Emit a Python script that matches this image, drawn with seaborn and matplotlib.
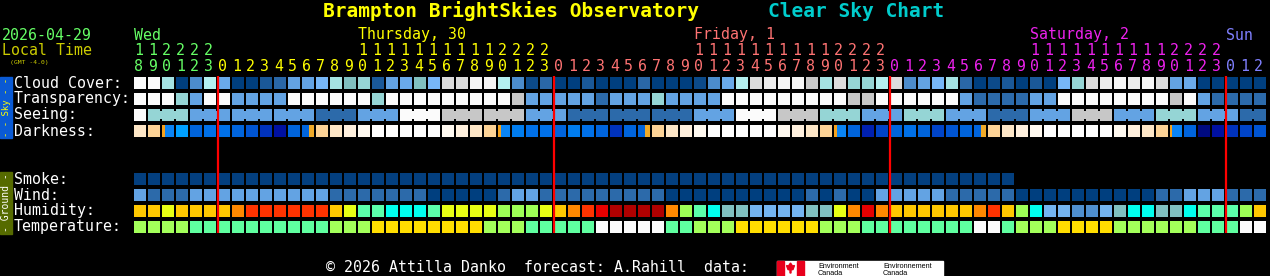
import matplotlib
matplotlib.use("Agg")
import matplotlib.pyplot as plt
from matplotlib.patches import Rectangle, Polygon
import pandas as pd
import seaborn as sns

W, H = 1270, 276

# ---------------- data ----------------
title_left = "Brampton BrightSkies Observatory"
title_right = "Clear Sky Chart"
date_text = "2026-04-29"
tz_text = "(GMT -4.0)"
hours = [18, 19, 20, 21, 22, 23] + list(range(24)) * 3 + [0, 1, 2]
day_names = ["Wed", "Thursday, 30", "Friday, 1", "Saturday, 2", "Sun"]
day_label_cols = [0, 16, 40, 64, 78]
day_start_cols = [0, 6, 30, 54, 78]
day_colors = ["#66ff66", "#ffff00", "#ff7373", "#ee22ee", "#8080ff"]

sky_labels = ["Cloud Cover:", "Transparency:", "Seeing:", "Darkness:"]
ground_labels = ["Smoke:", "Wind:", "Humidity:", "Temperature:"]

# cloud cover, percent
cloud_cover = [100, 100, 70, 0, 40, 75, 50, 0, 0, 20,
               30, 45, 45, 55, 70, 60, 65, 20, 45, 50,
               60, 55, 85, 85, 95, 95, 75, 40, 10, 30,
               0, 0, 20, 0, 0, 0, 30, 0, 0, 0,
               10, 40, 50, 75, 85, 90, 95, 95, 80, 70,
               85, 65, 65, 75, 85, 40, 45, 55, 70, 30,
               0, 10, 20, 0, 20, 0, 55, 65, 85, 90,
               95, 90, 95, 85, 45, 50, 0, 0, 0, 0,
               0]
# transparency level 0 (too cloudy) .. 5 (transparent)
transparency = [0, 0, 0, 2, 3, 0, 0, 3, 3, 3,
                3, 0, 0, 0, 0, 0, 0, 2, 0, 0,
                0, 0, 0, 0, 0, 0, 0, 1, 3, 3,
                3, 3, 3, 4, 3, 3, 3, 2, 3, 3,
                3, 3, 0, 0, 0, 0, 0, 0, 0, 0,
                0, 1, 1, 0, 0, 0, 0, 0, 0, 3,
                4, 4, 4, 4, 3, 3, 0, 0, 0, 0,
                0, 0, 0, 0, 1, 0, 3, 4, 4, 4,
                4]
# seeing level 0 (too cloudy) .. 5 (excellent)
seeing = [0, 2, 2, 2, 3, 3, 3, 3, 3, 3,
          3, 3, 3, 4, 4, 4, 3, 3, 3, 0,
          0, 0, 1, 1, 1, 1, 1, 1, 3, 3,
          3, 4, 4, 4, 4, 4, 4, 4, 4, 4,
          3, 3, 3, 0, 0, 0, 1, 1, 1, 2,
          2, 2, 3, 3, 3, 2, 2, 2, 3, 3,
          3, 4, 4, 4, 3, 3, 3, 1, 1, 1,
          3, 3, 3, 2, 2, 2, 3, 3, 3, 4,
          4]
# darkness: negative = sun up / twilight, positive = limiting magnitude
darkness = [-1, 0, 3.5, 3.0, 4.6, 4.3, 4.3, 4.6, 5.0, 5.6,
            6.3, 4.6, 4.6, 0, -1, -2, -3, -4, -4, -4,
            -4, -4, -3, -2, -1, 0, 3.5, 4.0, 4.3, 4.3,
            4.6, 4.0, 4.3, 4.6, 5.6, 4.6, 4.6, 0, -1, -2,
            -3, -4, -4, -4, -4, -4, -3, -2, -1, 0,
            3.5, 4.6, 6.0, 5.3, 4.6, 4.3, 4.6, 5.3, 5.0, 4.6,
            4.6, 0, -1, -2, -3, -4, -4, -4, -4, -4,
            -3, -2, -1, 0, 3.5, 4.6, 6.6, 6.3, 5.6, 5.3,
            5.0]
sunset_cols = [2, 26, 50, 74]
sunrise_cols = [12, 36, 60]
# smoke (ug/m3), forecast available for 63 hours
smoke = [0, 0, 0, 0, 0, 0, 0, 0, 0, 0,
         0, 0, 0, 0, 0, 0, 0, 0, 0, 0,
         0, 0, 0, 0, 0, 0, 0, 0, 0, 0,
         0, 0, 0, 0, 0, 0, 0, 0, 0, 0,
         0, 0, 0, 0, 0, 0, 0, 0, 0, 0,
         0, 0, 0, 0, 0, 0, 0, 0, 0, 0,
         0, 0, 0]
# wind, km/h
wind = [14, 8, 8, 8, 14, 14, 14, 14, 14, 14,
        14, 14, 14, 14, 8, 8, 8, 8, 8, 8,
        8, 3, 3, 3, 3, 3, 8, 14, 14, 8,
        8, 8, 8, 8, 8, 8, 8, 8, 3, 3,
        3, 3, 3, 3, 3, 3, 3, 3, 8, 3,
        8, 3, 3, 14, 14, 14, 14, 14, 8, 8,
        8, 8, 8, 3, 3, 3, 3, 3, 3, 3,
        3, 3, 3, 8, 8, 14, 14, 14, 8, 8,
        8]
# relative humidity, percent
humidity = [70, 70, 65, 70, 70, 70, 70, 75, 80, 80,
            80, 80, 80, 80, 70, 65, 55, 55, 50, 50,
            50, 55, 65, 65, 65, 65, 60, 60, 60, 65,
            70, 75, 80, 85, 95, 95, 95, 95, 75, 60,
            55, 50, 45, 45, 40, 40, 40, 40, 45, 45,
            65, 75, 85, 75, 70, 70, 70, 70, 70, 70,
            75, 80, 70, 60, 50, 40, 40, 35, 35, 40,
            45, 50, 50, 45, 45, 50, 55, 55, 55, 60,
            70]
# temperature, deg C
temperature = [10, 10, 10, 10, 7, 7, 7, 7, 7, 7,
               7, 7, 7, 7, 10, 10, 10, 15, 15, 15,
               15, 15, 15, 15, 15, 10, 10, 10, 7, 7,
               7, 7, 7, 2, 2, 2, 2, 2, 7, 7,
               10, 10, 10, 15, 15, 15, 15, 15, 15, 10,
               10, 10, 7, 7, 7, 7, 7, 7, 7, 7,
               2, 2, 7, 10, 10, 10, 15, 15, 15, 15,
               10, 10, 10, 10, 10, 10, 7, 7, 7, 2,
               2]

# ---------------- colour scales ----------------
cloud_pal = {100: "#fbfbfb", 95: "#f5f5f5", 90: "#ececec", 85: "#dcdcdc",
             80: "#c8c8c8", 75: "#b4f0f0", 70: "#a5e3e3", 65: "#96d6d6",
             60: "#80c0c0", 55: "#77b7f7", 50: "#6aaaea", 45: "#63a3e3",
             40: "#4c8ccc", 30: "#2a67a7", 20: "#1a5898", 10: "#0c4a8a",
             0: "#003f7f"}
level_pal = {0: "#fbfbfb", 1: "#c7c7c7", 2: "#95d5d5", 3: "#63a3e3",
             4: "#2c6aaa", 5: "#003f7f"}
dark_pal = {-4: "#fefefe", -3: "#fff9f0", -2: "#fff0dd", -1: "#fde6c6",
            0: "#fdd396", 3.0: "#00a0ff", 3.5: "#0a84f4", 4.0: "#007cee",
            4.3: "#0070e8", 4.6: "#0064dc", 5.0: "#0054d2", 5.3: "#0044c8",
            5.6: "#0032bc", 6.0: "#0020b0", 6.3: "#0010a0", 6.6: "#000a80"}
smoke_pal = {0: "#033f7f"}
wind_pal = {14: "#63a3e3", 8: "#2c6aaa", 3: "#003f7f"}
hum_pal = {35: "#4f8fcf", 40: "#73b4f0", 45: "#80c0c0", 50: "#00ffee",
           55: "#5bffaa", 60: "#9dff55", 65: "#e8ff14", 70: "#ffc800",
           75: "#ff8800", 80: "#ff3300", 85: "#e60000", 95: "#b00000"}
temp_pal = {2: "#fbfbfb", 7: "#5fffa0", 10: "#a3ff5a", 15: "#ffdd00"}

# ---------------- figure ----------------
sns.set_theme(style="dark", rc={"figure.facecolor": "black",
                                "axes.facecolor": "black"})
plt.rcParams["font.family"] = ["DejaVu Sans Mono", "DejaVu Sans"]

fig = plt.figure(figsize=(W / 100, H / 100), dpi=100, facecolor="black")


def ftext(x, y, s, **kw):
    kw.setdefault("va", "baseline")
    kw.setdefault("ha", "left")
    return fig.text(x / W, 1 - y / H, s, **kw)


# grid axes: one unit per hour column (14 px) and per row (16 px)
ax = fig.add_axes([133 / W, 1 - 235 / H, 1134 / W, 160 / H])
ax.set_xlim(-0.5, 80.5)
ax.set_ylim(9.5, -0.5)
ax.set_facecolor("black")
ax.axis("off")

rows = [(0, cloud_cover, cloud_pal), (1, transparency, level_pal),
        (2, seeing, level_pal), (3, darkness, dark_pal),
        (6, smoke, smoke_pal), (7, wind, wind_pal),
        (8, humidity, hum_pal), (9, temperature, temp_pal)]
recs = []
for r, vals, pal in rows:
    for c, v in enumerate(vals):
        recs.append({"col": c, "row": r, "color": pal[v]})
df = pd.DataFrame(recs)
side_pt = 12 * 72 / 100
sns.scatterplot(data=df, x="col", y="row", hue="color",
                palette={c: c for c in df["color"].unique()},
                marker="s", s=side_pt ** 2, linewidth=0, legend=False,
                ax=ax, zorder=2)
ax.set_xlim(-0.5, 80.5)
ax.set_ylim(9.5, -0.5)
ax.axis("off")

# seeing blocks joined in 3-hour groups
for c in range(len(seeing) - 1):
    g1 = -1 if c == 0 else (c - 1) // 3
    g2 = (c + 1 - 1) // 3
    if g1 == g2 and seeing[c] == seeing[c + 1]:
        ax.bar(c + 0.5, 8 / 16, width=2.4 / 14, bottom=2 - 4 / 16,
               color=level_pal[seeing[c]], linewidth=0, zorder=2)

# sunset / sunrise twilight stripes in darkness row
for c in sunset_cols:
    ax.bar(c - 6 / 14 + 1.25 / 14, 12 / 16, width=2.5 / 14,
           bottom=3 - 6 / 16, color="#f5a21c", linewidth=0, zorder=3)
for c in sunrise_cols:
    ax.bar(c + 6 / 14 - 2.5 / 14, 12 / 16, width=5 / 14,
           bottom=3 - 6 / 16, color="#f0aa28", linewidth=0, zorder=3)

# midnight lines
for c in day_start_cols[1:]:
    ax.vlines(c - 6 / 14, -0.44, 9.38, color="#ff0000", linewidth=1.6,
              zorder=4)

# ---------------- header text ----------------
ftext(323, 17, title_left, color="#ffff00", fontsize=14, fontweight="bold")
ftext(768, 17, title_right, color="#00cccc", fontsize=14, fontweight="bold")
ftext(2, 39.5, date_text, color="#66ff66", fontsize=10.75)
ftext(2, 55, "Local Time", color="#cccc00", fontsize=10.75)
ftext(10, 64, tz_text, color="#cccc00", fontsize=4.6)

for name, lc, col in zip(day_names, day_label_cols, day_colors):
    ftext(134 + 14 * lc, 39.5, name, color=col, fontsize=10.75)

for c, h in enumerate(hours):
    d = sum(1 for s in day_start_cols if s <= c) - 1
    col = day_colors[d]
    x = 134 + 14 * c + 4.5
    if h >= 10:
        ftext(x, 55, str(h // 10), color=col, fontsize=10.75, ha="center")
    ftext(x, 71, str(h % 10), color=col, fontsize=10.75, ha="center")

# row labels
for i, lab in enumerate(sky_labels):
    ftext(14, 87.5 + 16 * i, lab, color="white", fontsize=10.75)
for i, lab in enumerate(ground_labels):
    ftext(14, 183.5 + 16 * i, lab, color="white", fontsize=10.75)

# side bars
fig.patches.append(Rectangle((0, 1 - 138 / H), 12 / W, 61.5 / H,
                             transform=fig.transFigure, color="#0a5ad4",
                             zorder=0))
fig.patches.append(Rectangle((0, 1 - 233.5 / H), 12 / W, 61.5 / H,
                             transform=fig.transFigure, color="#566b00",
                             zorder=0))
fig.text(6.5 / W, 1 - 107 / H, "- - Sky - -", color="#ffff00", fontsize=6.5,
         rotation=90, ha="center", va="center")
fig.text(6.5 / W, 1 - 203 / H, "- Ground -", color="white", fontsize=7,
         rotation=90, ha="center", va="center")

# ---------------- footer ----------------
ftext(326, 272.5, "\u00a9 2026 Attilla Danko  forecast: A.Rahill  data:",
      color="white", fontsize=10.75)
fig.patches.append(Rectangle((777 / W, 0), 166 / W, 15 / H,
                             transform=fig.transFigure, color="white"))
fig.patches.append(Rectangle((777 / W, 0), 7 / W, 15 / H,
                             transform=fig.transFigure, color="#e8001c"))
fig.patches.append(Rectangle((797 / W, 0), 7 / W, 15 / H,
                             transform=fig.transFigure, color="#e8001c"))
leaf = [(790.5, 263), (792.5, 266), (794.5, 265.5), (793, 269.5),
        (791, 270), (791, 273), (790, 273), (790, 270), (788, 269.5),
        (786.5, 265.5), (788.5, 266)]
fig.patches.append(Polygon([(x / W, 1 - y / H) for x, y in leaf],
                           closed=True, transform=fig.transFigure,
                           color="#e8001c"))
for x0, l1 in [(818, "Environment"), (883, "Environnement")]:
    fig.text(x0 / W, 1 - 268 / H, l1, color="black", fontsize=5.2,
             family="Liberation Sans", va="baseline")
    fig.text(x0 / W, 1 - 275 / H, "Canada", color="black", fontsize=5.2,
             family="Liberation Sans", va="baseline")

fig.savefig("out.png", dpi=100, facecolor="black")
